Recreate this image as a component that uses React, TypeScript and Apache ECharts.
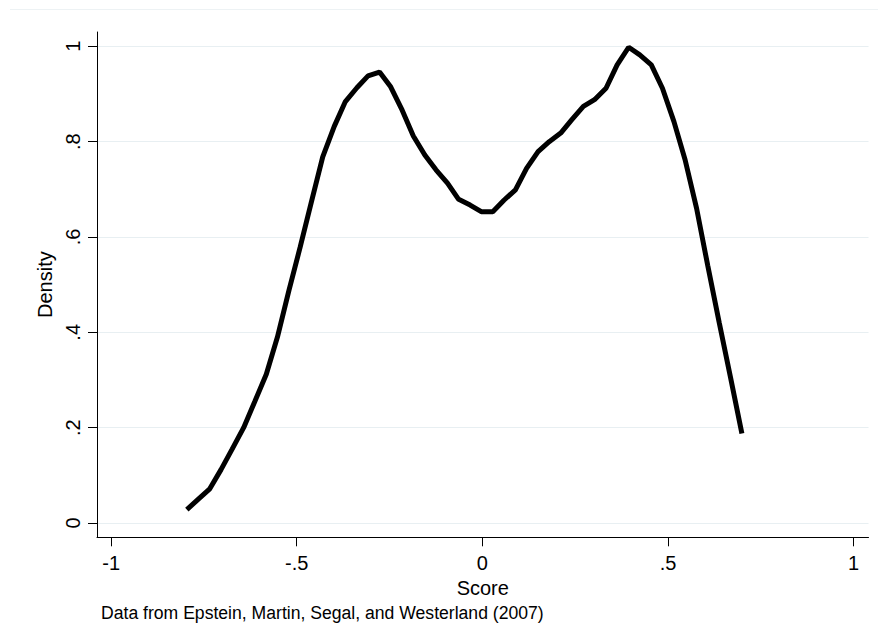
import React, { useEffect, useRef } from "react";
import * as echarts from "echarts";

const scoreGrid = [
  -0.796, -0.765, -0.735, -0.704, -0.674, -0.643, -0.613, -0.582, -0.552, -0.521,
  -0.491, -0.46, -0.43, -0.399, -0.369, -0.338, -0.308, -0.277, -0.247, -0.216,
  -0.186, -0.155, -0.125, -0.094, -0.064, -0.033, -0.003, 0.028, 0.058, 0.089,
  0.119, 0.15, 0.18, 0.211, 0.241, 0.272, 0.302, 0.333, 0.363, 0.394,
  0.424, 0.455, 0.485, 0.516, 0.546, 0.577, 0.607, 0.638, 0.668, 0.699,
];

const densityValues = [
  0.028, 0.05, 0.071, 0.112, 0.155, 0.2, 0.255, 0.312, 0.39, 0.488,
  0.578, 0.675, 0.768, 0.832, 0.884, 0.913, 0.938, 0.946, 0.915, 0.866,
  0.812, 0.772, 0.741, 0.713, 0.679, 0.667, 0.653, 0.653, 0.677, 0.699,
  0.744, 0.779, 0.8, 0.818, 0.846, 0.874, 0.888, 0.912, 0.961, 0.998,
  0.982, 0.961, 0.912, 0.842, 0.762, 0.66, 0.54, 0.42, 0.307, 0.188,
];

const xTickValues = [-1, -0.5, 0, 0.5, 1];
const xTickLabels = ["-1", "-.5", "0", ".5", "1"];
const yTickValues = [0, 0.2, 0.4, 0.6, 0.8, 1];
const yTickLabels = ["0", ".2", ".4", ".6", ".8", "1"];

const xTitle = "Score";
const yTitle = "Density";
const note = "Data from Epstein, Martin, Segal, and Westerland (2007)";

function labelFor(values: number[], labels: string[], v: number) {
  for (let i = 0; i < values.length; i++) {
    if (Math.abs(values[i] - v) < 1e-6) return labels[i];
  }
  return "";
}

const FONT = "'Liberation Sans', Arial, Helvetica, sans-serif";

export default function App() {
  const ref = useRef<HTMLDivElement>(null);

  useEffect(() => {
    if (!ref.current) return;
    const chart = echarts.init(ref.current, null, { renderer: "svg" });
    const data = scoreGrid.map((x, i) => [x, densityValues[i]]);
    chart.setOption({
      animation: false,
      backgroundColor: "#ffffff",
      textStyle: { fontFamily: FONT },
      grid: { left: 97, right: 9.5, top: 32, bottom: 87.7, containLabel: false },
      title: {
        text: note,
        left: 101,
        top: 604,
        padding: 0,
        textStyle: { fontFamily: FONT, fontSize: 17.6, fontWeight: "normal", color: "#000" },
      },
      graphic: [
        {
          type: "line",
          shape: { x1: 10, y1: 9.5, x2: 878, y2: 9.5 },
          style: { stroke: "#edf2f4", lineWidth: 1 },
          silent: true,
        },
      ],
      xAxis: {
        type: "value",
        min: -1.038,
        max: 1.04,
        name: xTitle,
        nameLocation: "middle",
        nameGap: 36,
        nameTextStyle: { fontFamily: FONT, fontSize: 20, color: "#000" },
        axisLine: { show: true, onZero: false, lineStyle: { color: "#000", width: 1 } },
        axisTick: {
          show: true,
          length: 9,
          customValues: xTickValues,
          lineStyle: { color: "#000", width: 1 },
        },
        axisLabel: {
          customValues: xTickValues,
          margin: 16,
          fontFamily: FONT,
          fontSize: 20,
          color: "#000",
          formatter: (v: number) => labelFor(xTickValues, xTickLabels, v),
        },
        splitLine: { show: false },
      },
      yAxis: {
        type: "value",
        min: -0.03,
        max: 1.03,
        name: yTitle,
        nameLocation: "middle",
        nameGap: 41,
        nameTextStyle: { fontFamily: FONT, fontSize: 20, color: "#000" },
        axisLine: { show: true, onZero: false, lineStyle: { color: "#000", width: 1 } },
        axisTick: {
          show: true,
          length: 9,
          customValues: yTickValues,
          lineStyle: { color: "#000", width: 1 },
        },
        axisLabel: {
          customValues: yTickValues,
          rotate: 90,
          margin: 14,
          fontFamily: FONT,
          fontSize: 20,
          color: "#000",
          formatter: (v: number) => labelFor(yTickValues, yTickLabels, v),
        },
        splitLine: { show: true, lineStyle: { color: "#e8eff2", width: 1.2 } },
      },
      series: [
        {
          type: "line",
          data,
          showSymbol: false,
          symbol: "none",
          smooth: false,
          lineStyle: { color: "#000", width: 5 },
          z: 3,
        },
      ],
    });
    return () => chart.dispose();
  }, []);

  return (
    <div
      ref={ref}
      style={{ position: "fixed", left: 0, top: 0, width: 878, height: 625, background: "#fff" }}
    />
  );
}
